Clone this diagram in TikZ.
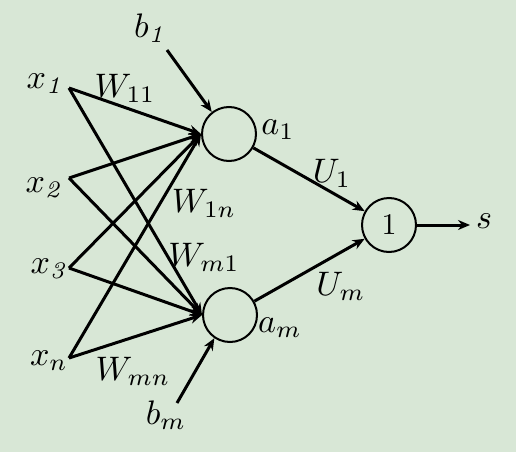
\documentclass[tikz,border=0pt]{standalone}
\usetikzlibrary{arrows.meta}
\definecolor{bg}{RGB}{216,231,214}
\newcommand{\lblmath}[1]{\scalebox{3.4}{$#1$}}
\begin{document}
\begin{tikzpicture}[x=1pt,y=-1pt,
  lbl/.style={inner sep=0pt},
  neuron/.style={draw,circle,line width=2pt,minimum size=54pt,inner sep=0pt},
  wire/.style={line width=3pt,-{Stealth[length=12pt,width=10pt]}}]
\fill[bg] (0,0) rectangle (516,452);
\useasboundingbox (0,0) rectangle (516,452);
\node[neuron] (n1) at (229,134) {};
\node[neuron] (nm) at (230,315) {};
\node[neuron] (out) at (389,225) {\scalebox{3}{1}};
\coordinate (p1) at (69,88);
\coordinate (p2) at (69,178);
\coordinate (p3) at (69,268);
\coordinate (p4) at (69,358);
\coordinate (b1s) at (167,50);
\coordinate (bms) at (177,403);
\coordinate (se) at (470,225);
\node[lbl] (x1) at (46,84) {\lblmath{x_{\mathit{1}}}};
\node[lbl] (x2) at (45,188) {\lblmath{x_{\mathit{2}}}};
\node[lbl] (x3) at (50,269) {\lblmath{x_{\mathit{3}}}};
\node[lbl] (xn) at (49,361) {\lblmath{x_n}};
\node[lbl] (b1) at (151,28) {\lblmath{b_{\mathit{1}}}};
\node[lbl] (bm) at (166,415) {\lblmath{b_m}};
\node[lbl] (w11) at (125,88) {\lblmath{W_{11}}};
\node[lbl] (w1n) at (204,203) {\lblmath{W_{1n}}};
\node[lbl] (wm1) at (204,257) {\lblmath{W_{m1}}};
\node[lbl] (wmn) at (133,371) {\lblmath{W_{mn}}};
\node[lbl] (a1) at (278,130) {\lblmath{a_1}};
\node[lbl] (am) at (280,328) {\lblmath{a_m}};
\node[lbl] (u1) at (332,173) {\lblmath{U_1}};
\node[lbl] (um) at (341,286) {\lblmath{U_m}};
\node[lbl] (s) at (484,221) {\lblmath{s}};
\foreach \p in {p1,p2,p3,p4}{
  \draw[wire] (\p) -- (n1.west);
  \draw[wire] (\p) -- (nm.west);
}
\draw[wire] (b1s) -- (n1.128);
\draw[wire] (bms) -- (nm.236);
\draw[wire] (n1) -- (out);
\draw[wire] (nm) -- (out);
\draw[wire] (out) -- (se);
\end{tikzpicture}
\end{document}
